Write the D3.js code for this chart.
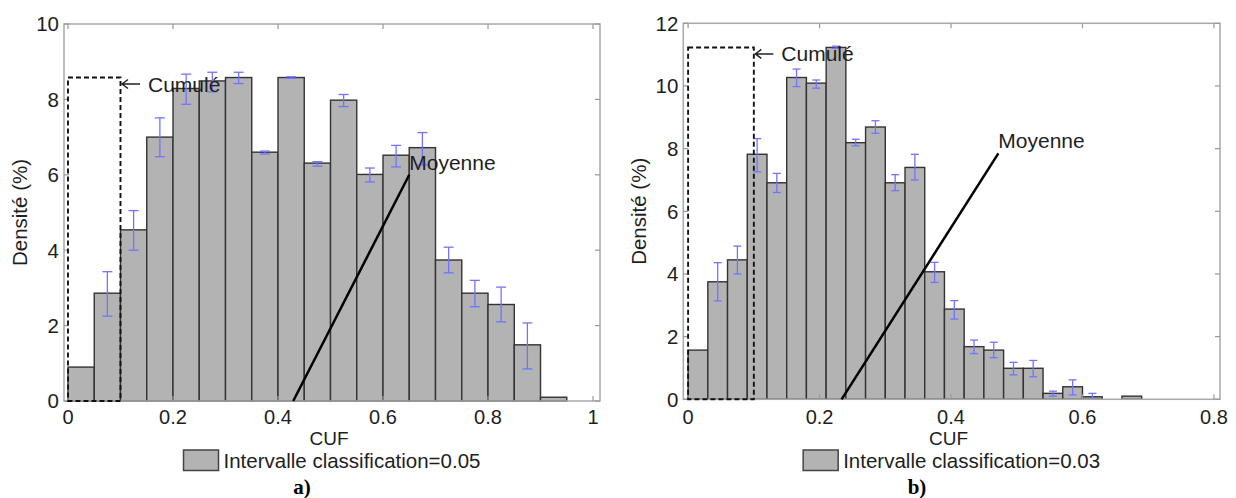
<!DOCTYPE html>
<html>
<head>
<meta charset="utf-8">
<script src="https://cdn.jsdelivr.net/npm/d3@7"></script>
<style>
  html, body { margin: 0; padding: 0; background: #fff; }
  svg { display: block; font-family: "Liberation Sans", Arial, sans-serif; }
</style>
</head>
<body>
<svg id="chart" width="1236" height="498"></svg>
<script>
// ---------- DATA ----------
// Panel a) : bin width 0.05
const binWidthA = 0.05;
const binStartsA = [0,0.05,0.10,0.15,0.20,0.25,0.30,0.35,0.40,0.45,0.50,0.55,0.60,0.65,0.70,0.75,0.80,0.85,0.90];
const densityA   = [0.9,2.86,4.54,7.0,8.29,8.49,8.58,6.6,8.58,6.31,7.98,6.01,6.52,6.72,3.74,2.86,2.56,1.49,0.1];
const errLowA    = [null,2.25,4.0,6.48,7.87,8.2,8.42,6.55,8.56,6.23,7.81,5.81,6.21,6.26,3.4,2.5,2.1,0.85,null];
const errHighA   = [null,3.43,5.05,7.51,8.67,8.72,8.72,6.63,8.6,6.35,8.13,6.18,6.78,7.12,4.08,3.2,3.02,2.07,null];
const xTicksA = [0,0.2,0.4,0.6,0.8,1];
const xTickLabelsA = ["0","0.2","0.4","0.6","0.8","1"];
const yTicksA = [0,2,4,6,8,10];
const cumulA = [0, 0.1, 8.58];          // x0, x1, height of "Cumulé" box
const moyenneA = [0.429, 0.65, 6.0];    // line from (x0,0) to (x1,y1)
const legendA = "Intervalle classification=0.05";

// Panel b) : bin width 0.03
const binWidthB = 0.03;
const binStartsB = [0,0.03,0.06,0.09,0.12,0.15,0.18,0.21,0.24,0.27,0.30,0.33,0.36,0.39,0.42,0.45,0.48,0.51,0.54,0.57,0.60,0.63,0.66];
const densityB   = [1.57,3.75,4.45,7.82,6.91,10.27,10.09,11.23,8.19,8.69,6.91,7.4,4.07,2.88,1.68,1.57,0.99,0.99,0.19,0.4,0.08,0,0.1];
const errLowB    = [null,3.14,4.0,7.26,6.6,9.98,9.93,11.2,8.09,8.49,6.66,7.0,3.73,2.56,1.46,1.33,0.78,0.72,0.1,0.14,0.0,null,null];
const errHighB   = [null,4.36,4.89,8.32,7.21,10.54,10.19,11.27,8.3,8.89,7.17,7.82,4.37,3.15,1.89,1.82,1.18,1.24,0.26,0.62,0.19,null,null];
const xTicksB = [0,0.2,0.4,0.6,0.8];
const xTickLabelsB = ["0","0.2","0.4","0.6","0.8"];
const yTicksB = [0,2,4,6,8,10,12];
const cumulB = [0, 0.1, 11.23];
const moyenneB = [0.2335, 0.472, 7.85];
const legendB = "Intervalle classification=0.03";

const xLabel = "CUF";
const yLabel = "Densité (%)";

// ---------- DRAWING ----------
const svg = d3.select("#chart");
const FONT = 20.5;
const TXT = "#1e1e1e";

function panel(cfg) {
  const { box, xDom, yDom, binStarts, binW, dens, lo, hi, xTicks, xTickLabels, yTicks,
          cumul, moy, legend, caption, captionX, capHalf } = cfg;
  const x = d3.scaleLinear().domain(xDom).range([box.l, box.r]);
  const y = d3.scaleLinear().domain(yDom).range([box.b, box.t]);
  const g = svg.append("g");

  // bars
  const bins = binStarts.map((s, i) => ({ s, v: dens[i], lo: lo[i], hi: hi[i] }));
  g.selectAll("rect.bar").data(bins.filter(d => d.v > 0)).join("rect")
    .attr("x", d => x(d.s)).attr("y", d => y(d.v))
    .attr("width", d => x(d.s + binW) - x(d.s))
    .attr("height", d => y(0) - y(d.v))
    .attr("fill", "#b3b3b3").attr("stroke", "#333").attr("stroke-width", 1.4);

  // error bars
  const eb = bins.filter(d => d.lo !== null && d.hi !== null);
  const ebc = "#7373ff";
  g.selectAll("line.ev").data(eb).join("line")
    .attr("x1", d => x(d.s + binW / 2)).attr("x2", d => x(d.s + binW / 2))
    .attr("y1", d => y(d.lo)).attr("y2", d => y(d.hi))
    .attr("stroke", ebc).attr("stroke-width", 1.3);
  ["lo", "hi"].forEach(k => {
    g.selectAll("line.cap" + k).data(eb).join("line")
      .attr("x1", d => x(d.s + binW / 2) - capHalf).attr("x2", d => x(d.s + binW / 2) + capHalf)
      .attr("y1", d => y(d[k])).attr("y2", d => y(d[k]))
      .attr("stroke", ebc).attr("stroke-width", 1.3);
  });

  // axes box
  g.append("rect").attr("x", box.l).attr("y", box.t)
    .attr("width", box.r - box.l).attr("height", box.b - box.t)
    .attr("fill", "none").attr("stroke", "#a8a8a8").attr("stroke-width", 1.5);

  // ticks inside (bottom/top, left/right)
  const tl = 5;
  xTicks.forEach(t => {
    g.append("line").attr("x1", x(t)).attr("x2", x(t)).attr("y1", box.b).attr("y2", box.b - tl).attr("stroke", "#999").attr("stroke-width", 1.2);
    g.append("line").attr("x1", x(t)).attr("x2", x(t)).attr("y1", box.t).attr("y2", box.t + tl).attr("stroke", "#999").attr("stroke-width", 1.2);
  });
  yTicks.forEach(t => {
    g.append("line").attr("x1", box.l).attr("x2", box.l + tl).attr("y1", y(t)).attr("y2", y(t)).attr("stroke", "#999").attr("stroke-width", 1.2);
    g.append("line").attr("x1", box.r).attr("x2", box.r - tl).attr("y1", y(t)).attr("y2", y(t)).attr("stroke", "#999").attr("stroke-width", 1.2);
  });

  // tick labels
  g.selectAll("text.xt").data(xTicks).join("text")
    .attr("x", d => x(d)).attr("y", 423.8)
    .attr("text-anchor", "middle").attr("font-size", 20).attr("fill", TXT)
    .text((d, i) => xTickLabels[i]);
  g.selectAll("text.yt").data(yTicks).join("text")
    .attr("x", box.l - 5).attr("y", d => y(d))
    .attr("dy", "0.36em")
    .attr("text-anchor", "end").attr("font-size", FONT).attr("fill", TXT)
    .text(d => d);

  // axis labels
  g.append("text").attr("x", (box.l + box.r) / 2 - 3).attr("y", 445.3)
    .attr("text-anchor", "middle").attr("font-size", 19).attr("fill", TXT).text(xLabel);
  g.append("text")
    .attr("transform", `translate(${box.l - 37},${(box.t + box.b) / 2}) rotate(-90)`)
    .attr("text-anchor", "middle").attr("font-size", FONT).attr("fill", TXT).text(yLabel);

  // Cumulé dashed box
  g.append("rect").attr("x", x(cumul[0])).attr("y", y(cumul[2]))
    .attr("width", x(cumul[1]) - x(cumul[0])).attr("height", y(0) - y(cumul[2]))
    .attr("fill", "none").attr("stroke", "#111").attr("stroke-width", 1.9)
    .attr("stroke-dasharray", "5,3");
  // arrow + label
  const ax = x(cumul[1]) + 1.5, ay = y(cumul[2]) + 6.5;
  g.append("path").attr("d", `M${ax + 18},${ay} L${ax},${ay} M${ax + 6},${ay - 4.5} L${ax},${ay} L${ax + 6},${ay + 4.5}`)
    .attr("fill", "none").attr("stroke", "#222").attr("stroke-width", 1.4);
  g.append("text").attr("x", ax + 26).attr("y", ay + 7.5)
    .attr("font-size", 21).attr("fill", TXT).text("Cumulé");

  // Moyenne line
  g.append("line").attr("x1", x(moy[0])).attr("y1", y(0)).attr("x2", x(moy[1])).attr("y2", y(moy[2]))
    .attr("stroke", "#000").attr("stroke-width", 2.5);
  g.append("text").attr("x", x(moy[1])).attr("y", y(moy[2]) - 5)
    .attr("font-size", 21).attr("fill", TXT).text("Moyenne");

  // legend
  const lt = g.append("text").attr("y", 468).attr("font-size", FONT).attr("fill", TXT).text(legend);
  const tw = lt.node().getComputedTextLength();
  const totalW = 35 + 5 + tw;
  const lx = (box.l + box.r) / 2 - totalW / 2;
  g.append("rect").attr("x", lx).attr("y", 450).attr("width", 35).attr("height", 20.5)
    .attr("fill", "#b3b3b3").attr("stroke", "#444").attr("stroke-width", 1.5);
  lt.attr("x", lx + 40);

  // caption
  g.append("text").attr("x", captionX).attr("y", 494)
    .attr("text-anchor", "middle").attr("font-family", "'Liberation Serif', 'Times New Roman', serif")
    .attr("font-weight", "bold").attr("font-size", 21).attr("fill", "#000").text(caption);
}

panel({
  box: { l: 64, r: 600, t: 24, b: 401 },
  xDom: [-0.0076, 1.0133], yDom: [0, 10],
  binStarts: binStartsA, binW: binWidthA, dens: densityA, lo: errLowA, hi: errHighA,
  xTicks: xTicksA, xTickLabels: xTickLabelsA, yTicks: yTicksA,
  cumul: cumulA, moy: moyenneA, legend: legendA, caption: "a)", captionX: 302, capHalf: 5
});
panel({
  box: { l: 683.3, r: 1220, t: 23.3, b: 399.3 },
  xDom: [-0.0073, 0.8092], yDom: [0, 12],
  binStarts: binStartsB, binW: binWidthB, dens: densityB, lo: errLowB, hi: errHighB,
  xTicks: xTicksB, xTickLabels: xTickLabelsB, yTicks: yTicksB,
  cumul: cumulB, moy: moyenneB, legend: legendB, caption: "b)", captionX: 917, capHalf: 4
});
</script>
</body>
</html>
